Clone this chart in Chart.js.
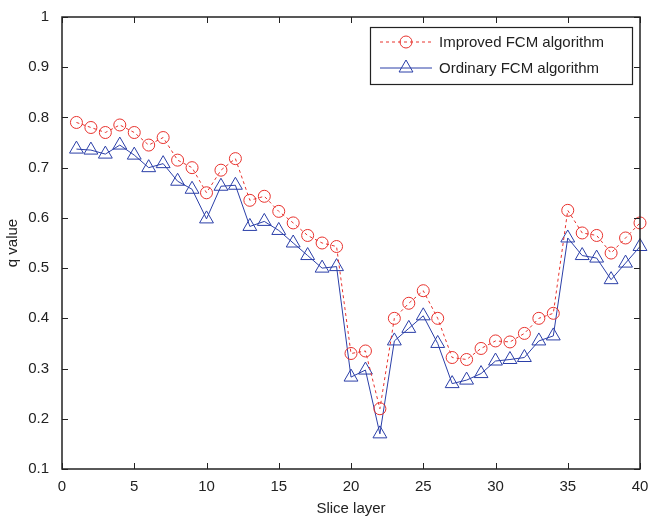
<!DOCTYPE html>
<html>
<head>
<meta charset="utf-8">
<script src="https://cdn.jsdelivr.net/npm/chart.js@4.4.0/dist/chart.umd.min.js"></script>
<style>
  body { margin: 0; background: #fff; }
  #wrap { width: 650px; height: 518px; }
</style>
</head>
<body>
<div id="wrap"><canvas id="c" width="650" height="518"></canvas></div>
<script>
var slices = [];
for (var i = 1; i <= 40; i++) slices.push(i);

var improved = [0.79, 0.78, 0.77, 0.785, 0.77, 0.745, 0.76, 0.715, 0.70, 0.65,
                0.695, 0.718, 0.635, 0.643, 0.613, 0.59, 0.565, 0.55, 0.543, 0.33,
                0.335, 0.22, 0.40, 0.43, 0.455, 0.40, 0.322, 0.318, 0.34, 0.355,
                0.353, 0.37, 0.40, 0.41, 0.615, 0.57, 0.565, 0.53, 0.56, 0.59];
var ordinary = [0.737, 0.735, 0.727, 0.745, 0.725, 0.70, 0.708, 0.673, 0.657, 0.598,
                0.663, 0.665, 0.583, 0.593, 0.575, 0.55, 0.525, 0.50, 0.503, 0.283,
                0.297, 0.17, 0.355, 0.38, 0.405, 0.35, 0.27, 0.277, 0.29, 0.315,
                0.318, 0.322, 0.355, 0.365, 0.56, 0.525, 0.52, 0.477, 0.51, 0.543];
var seriesNames = ["Improved FCM algorithm", "Ordinary FCM algorithm"];

var red = "#e8322d";
var blue = "#2b3fa8";
var font = "'Liberation Sans', Arial, sans-serif";

function toPoints(ys) {
    return slices.map(function(x, i){ return {x: x, y: ys[i]}; });
}

// box, inward ticks on all four sides, and the legend
var matlabFrame = {
    id: 'matlabFrame',
    afterDatasetsDraw: function(chart) {
        var ctx = chart.ctx, a = chart.chartArea;
        var xs = chart.scales.x, ys = chart.scales.y;
        ctx.save();
        ctx.strokeStyle = "#222";
        ctx.lineWidth = 1;
        ctx.beginPath();
        xs.ticks.forEach(function(t){
            var px = Math.round(xs.getPixelForValue(t.value)) + 0.5;
            ctx.moveTo(px, a.bottom); ctx.lineTo(px, a.bottom - 6);
            ctx.moveTo(px, a.top); ctx.lineTo(px, a.top + 6);
        });
        ys.ticks.forEach(function(t){
            var py = Math.round(ys.getPixelForValue(t.value)) + 0.5;
            ctx.moveTo(a.left, py); ctx.lineTo(a.left + 6, py);
            ctx.moveTo(a.right, py); ctx.lineTo(a.right - 6, py);
        });
        ctx.stroke();
        ctx.lineWidth = 1.5;
        ctx.strokeRect(a.left, a.top, a.right - a.left, a.bottom - a.top);

        // legend
        var lx = 370, ly = 27, lw = 262, lh = 57;
        ctx.fillStyle = "#fff";
        ctx.fillRect(lx, ly, lw, lh);
        ctx.lineWidth = 1.2;
        ctx.strokeStyle = "#222";
        ctx.strokeRect(lx + 0.5, ly + 0.5, lw, lh);
        ctx.font = "15px " + font;
        ctx.textBaseline = "middle";
        chart.data.datasets.forEach(function(ds, i){
            var cy = ly + 15 + i * 26;
            ctx.strokeStyle = ds.borderColor;
            ctx.lineWidth = 1;
            ctx.setLineDash(ds.borderDash || []);
            ctx.beginPath();
            ctx.moveTo(lx + 10, cy); ctx.lineTo(lx + 62, cy);
            ctx.stroke();
            ctx.setLineDash([]);
            ctx.fillStyle = "rgba(0,0,0,0)";
            Chart.helpers.drawPoint(ctx, {
                pointStyle: ds.pointStyle, radius: ds.pointRadius, borderWidth: 1
            }, lx + 36, cy);
            ctx.fillStyle = "#222";
            ctx.fillText(ds.label, lx + 69, cy + 1);
        });
        ctx.restore();
    }
};

new Chart(document.getElementById('c'), {
    type: 'line',
    data: {
        datasets: [
            {
                label: seriesNames[0],
                data: toPoints(improved),
                borderColor: red,
                borderWidth: 1,
                borderDash: [3, 3],
                pointStyle: 'circle',
                pointRadius: 6,
                pointBorderColor: red,
                pointBackgroundColor: 'rgba(0,0,0,0)',
                pointBorderWidth: 1,
                fill: false,
                tension: 0,
                clip: false
            },
            {
                label: seriesNames[1],
                data: toPoints(ordinary),
                borderColor: blue,
                borderWidth: 1,
                pointStyle: 'triangle',
                pointRadius: 8,
                pointBorderColor: blue,
                pointBackgroundColor: 'rgba(0,0,0,0)',
                pointBorderWidth: 1,
                fill: false,
                tension: 0,
                clip: false
            }
        ]
    },
    options: {
        responsive: false,
        animation: false,
        layout: { padding: { left: 0, right: 10, top: 17, bottom: 0 } },
        plugins: { legend: { display: false }, tooltip: { enabled: false } },
        scales: {
            x: {
                type: 'linear', min: 0, max: 40,
                ticks: { stepSize: 5, color: "#222", font: { family: font, size: 15 }, padding: 1, maxRotation: 0 },
                grid: { display: false },
                border: { display: false },
                title: { display: true, text: "Slice layer", color: "#222", font: { family: font, size: 15 }, padding: { top: 4, bottom: 0 } },
                afterFit: function(s){ s.height = 49; }
            },
            y: {
                min: 0.1, max: 1,
                ticks: {
                    stepSize: 0.1, color: "#222", font: { family: font, size: 15 }, padding: 5,
                    callback: function(v){ return String(Number(v.toFixed(1))); }
                },
                grid: { display: false },
                border: { display: false },
                title: { display: true, text: "q value", color: "#222", font: { family: font, size: 15 }, padding: { bottom: 4 } },
                afterFit: function(s){ s.width = 62; }
            }
        }
    },
    plugins: [matlabFrame]
});
</script>
</body>
</html>
